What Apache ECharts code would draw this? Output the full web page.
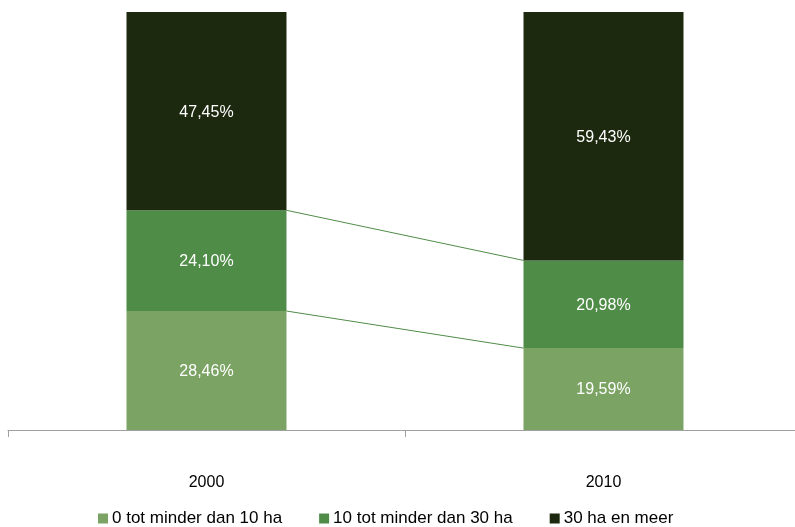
<!DOCTYPE html>
<html>
<head>
<meta charset="utf-8">
<script src="https://cdn.jsdelivr.net/npm/echarts@6/dist/echarts.min.js"></script>
<style>html,body{margin:0;padding:0;background:#fff}#c{width:795px;height:527px}</style>
</head>
<body>
<div id="c"></div>
<script>
var categories = ['2000', '2010'];
var seriesNames = ['0 tot minder dan 10 ha', '10 tot minder dan 30 ha', '30 ha en meer'];
var small = [28.46, 19.59];
var medium = [24.10, 20.98];
var large = [47.45, 59.43];
var colors = ['#7ba363', '#4f8c47', '#1c290e'];

var BAR_RATIO = 0.403;
var FONT = '"Liberation Sans", Arial, sans-serif';

function fmt(v) { return v.toFixed(2).replace('.', ',') + '%'; }

var stacks = [small, medium, large];
var series = stacks.map(function (arr, i) {
  return {
    name: seriesNames[i],
    type: 'bar',
    stack: 'total',
    barWidth: (BAR_RATIO * 100) + '%',
    data: arr,
    itemStyle: { color: colors[i] },
    label: {
      show: true,
      position: 'inside',
      offset: [0, 1],
      color: '#ffffff',
      fontSize: 16,
      fontFamily: FONT,
      formatter: function (p) { return fmt(p.value); }
    }
  };
});

// series lines between stacked segment tops
var boundaries = [
  [small[0], small[1]],
  [small[0] + medium[0], small[1] + medium[1]]
];
series.push({
  type: 'custom',
  silent: true,
  z: 1,
  data: boundaries,
  encode: { x: -1, y: -1 },
  renderItem: function (params, api) {
    var p0 = api.coord([0, api.value(0)]);
    var p1 = api.coord([1, api.value(1)]);
    var hb = api.size([1, 0])[0] * BAR_RATIO / 2;
    return {
      type: 'line',
      shape: { x1: p0[0] + hb, y1: p0[1], x2: p1[0] - hb, y2: p1[1] },
      style: { stroke: '#4f8c47', lineWidth: 1 }
    };
  }
});

var chart = echarts.init(document.getElementById('c'), null, { renderer: 'canvas' });
chart.setOption({
  animation: false,
  color: colors,
  textStyle: { fontFamily: FONT },
  grid: { left: 8, width: 794, top: 12, height: 418, containLabel: false, outerBoundsMode: 'none' },
  legend: {
    data: seriesNames,
    top: 510,
    left: 98,
    padding: 0,
    itemWidth: 10,
    itemHeight: 10,
    itemGap: 37,
    icon: 'rect',
    textStyle: { fontSize: 17, color: '#000', fontFamily: FONT, padding: [0, 0, 0, -1] }
  },
  xAxis: {
    type: 'category',
    data: categories,
    axisLine: { lineStyle: { color: '#a0a0a0', width: 1 } },
    axisTick: { show: true, length: 7, lineStyle: { color: '#a0a0a0' } },
    axisLabel: { margin: 45, fontSize: 16, color: '#000', fontFamily: FONT }
  },
  yAxis: {
    type: 'value',
    min: 0,
    max: 100,
    show: false
  },
  series: series
});
</script>
</body>
</html>
